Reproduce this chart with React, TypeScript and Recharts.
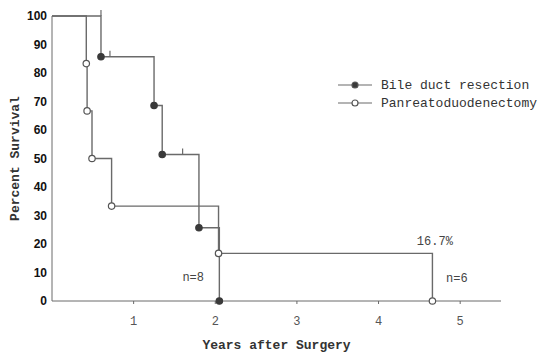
import React from 'react';
import { ComposedChart, Line, Scatter, XAxis, YAxis, ReferenceDot } from 'recharts';

// Kaplan-Meier steps (years, percent surviving)
const bileTimes = [0, 0.6, 1.25, 1.35, 1.8, 2.05];
const bileSurvival = [100, 85.7, 68.6, 51.4, 25.7, 0];
const pancTimes = [0, 0.42, 0.43, 0.49, 0.73, 2.04, 4.66];
const pancSurvival = [100, 83.3, 66.7, 50, 33.3, 16.7, 0];

// censored cases (short upward ticks)
const bileCensorTimes = [0.6, 0.71, 1.6];
const bileCensorSurvival = [100, 85.7, 51.4];

const yTicks = [0, 10, 20, 30, 40, 50, 60, 70, 80, 90, 100];
const xTicks = [1, 2, 3, 4, 5];

const notes = [
  { x: 4.69, y: 21, text: '16.7%' },
  { x: 1.73, y: 8.4, text: 'n=8' },
  { x: 4.96, y: 8, text: 'n=6' },
];

const legendItems = [
  { name: 'Bile duct resection', filled: true },
  { name: 'Panreatoduodenectomy', filled: false },
];

const bileData = bileTimes.map((t, i) => ({ x: t, y: bileSurvival[i] }));
const pancData = pancTimes.map((t, i) => ({ x: t, y: pancSurvival[i] }));
const censorData = bileCensorTimes.map((t, i) => ({ x: t, y: bileCensorSurvival[i] }));

const LINE = '#6a6a6a';
const MONO = '"Liberation Mono", monospace';

const makeDot = (filled: boolean) => (props: any) => {
  const { cx, cy, index } = props;
  if (index === 0) return <g key={`d${index}`} />;
  return (
    <circle
      key={`d${index}`}
      cx={cx}
      cy={cy}
      r={3.2}
      fill={filled ? '#3a3a3a' : '#fff'}
      stroke={filled ? '#3a3a3a' : '#555'}
      strokeWidth={1.2}
    />
  );
};

const CensorTick = (props: any) => {
  const { cx, cy } = props;
  return <line x1={cx} y1={cy} x2={cx} y2={cy - 6} stroke={LINE} strokeWidth={1.2} />;
};

const LegendBox = () => (
  <div style={{ fontFamily: MONO, fontSize: 13, color: '#333' }}>
    {legendItems.map((it) => (
      <div key={it.name} style={{ display: 'flex', alignItems: 'center', height: 18 }}>
        <svg width={36} height={10} style={{ marginRight: 7 }}>
          <line x1={0} y1={5} x2={34} y2={5} stroke={LINE} strokeWidth={1.2} />
          <circle cx={17} cy={5} r={3} fill={it.filled ? '#3a3a3a' : '#fff'} stroke="#555" strokeWidth={1.2} />
        </svg>
        <span>{it.name}</span>
      </div>
    ))}
  </div>
);

export default function App() {
  return (
    <div style={{ position: 'absolute', left: 0, top: 0, width: 539, height: 353, background: '#fff' }}>
      <ComposedChart width={539} height={353} margin={{ top: 16, right: 38, bottom: 22, left: 0 }}>
        <XAxis
          dataKey="x"
          type="number"
          domain={[0, 5.5]}
          ticks={xTicks}
          allowDataOverflow
          stroke={LINE}
          tickSize={3}
          tickMargin={12}
          height={30}
          tick={{ fontSize: 12, fontFamily: MONO, fill: '#555' }}
          label={{ value: 'Years after Surgery', position: 'bottom', offset: 9, style: { fontFamily: MONO, fontSize: 13, fill: '#333', fontWeight: 'bold' } }}
        />
        <YAxis
          type="number"
          domain={[0, 100]}
          ticks={yTicks}
          width={52}
          stroke={LINE}
          tickLine={false}
          tickSize={0}
          tickMargin={5}
          tick={{ fontSize: 12, fontFamily: '"Liberation Sans", Arial, sans-serif', fontWeight: 'bold', fill: '#111' }}
          label={{ value: 'Percent Survival', angle: -90, position: 'insideLeft', offset: 14, style: { textAnchor: 'middle', fontFamily: MONO, fontSize: 13, fill: '#333', fontWeight: 'bold' } }}
        />
        <Line
          data={bileData}
          dataKey="y"
          type="stepAfter"
          stroke={LINE}
          strokeWidth={1.4}
          dot={makeDot(true)}
          activeDot={false}
          isAnimationActive={false}
        />
        <Line
          data={pancData}
          dataKey="y"
          type="stepAfter"
          stroke={LINE}
          strokeWidth={1.4}
          dot={makeDot(false)}
          activeDot={false}
          isAnimationActive={false}
        />
        <Scatter data={censorData} dataKey="y" shape={<CensorTick />} legendType="none" isAnimationActive={false} />
        {notes.map((n) => (
          <ReferenceDot
            key={n.text}
            x={n.x}
            y={n.y}
            r={0}
            fill="none"
            stroke="none"
            label={{ value: n.text, position: 'center', style: { fontFamily: MONO, fontSize: 12, fill: '#444' } }}
          />
        ))}
      </ComposedChart>
      <div style={{ position: 'absolute', left: 338, top: 76 }}>
        <LegendBox />
      </div>
    </div>
  );
}
